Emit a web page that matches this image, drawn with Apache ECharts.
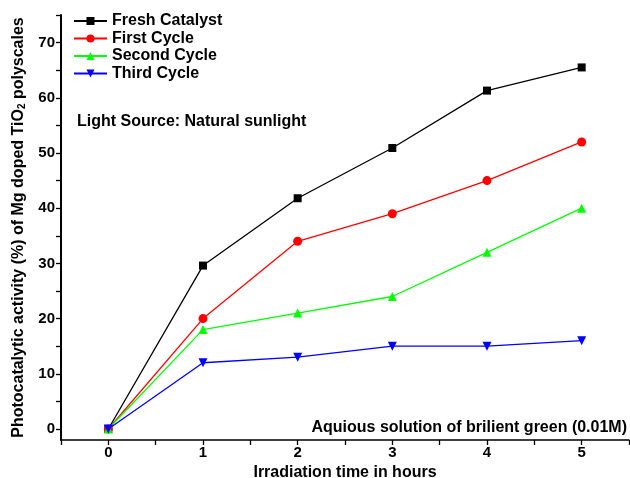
<!DOCTYPE html>
<html><head><meta charset="utf-8">
<script src="https://cdn.jsdelivr.net/npm/echarts@6/dist/echarts.min.js"></script>
<style>html,body{margin:0;padding:0;background:#fff}#c{width:630px;height:478px}</style>
</head><body><div id="c"></div>
<script>
const hours = [0, 1, 2, 3, 4, 5];
const fresh = [0, 29.6, 41.8, 50.9, 61.3, 65.5];
const first = [0, 20, 34, 39, 45, 52];
const second = [0, 18, 21, 24, 32, 40];
const third = [0, 12, 13, 15, 15, 16];
const seriesNames = ['Fresh Catalyst', 'First Cycle', 'Second Cycle', 'Third Cycle'];
const yTickValues = [0, 5, 10, 15, 20, 25, 30, 35, 40, 45, 50, 55, 60, 65, 70, 75];
const yLabelValues = [0, 10, 20, 30, 40, 50, 60, 70];
const xTickValues = [-0.5, 0, 0.5, 1, 1.5, 2, 2.5, 3, 3.5, 4, 4.5, 5, 5.5];
const xLabelValues = [0, 1, 2, 3, 4, 5];
const xMin = -0.5, xMax = 5.5, yMin = -2, yMax = 75;

const FONT = '"Liberation Sans", Arial, sans-serif';
const pair = arr => hours.map((h, i) => [h, arr[i]]);
const mk = (name, data, color, symbol, rot) => ({
  name, type: 'line', data: pair(data), symbol, symbolSize: symbol === 'rect' ? 8 : 9,
  symbolRotate: rot || 0, clip: false,
  lineStyle: { color, width: 1.3 }, itemStyle: { color }, animation: false
});

const chart = echarts.init(document.getElementById('c'), null, { renderer: 'canvas' });
chart.setOption({
  animation: false,
  grid: { left: 61, right: 1, top: 15, bottom: 38, containLabel: false, outerBoundsMode: 'none' },
  legend: {
    orient: 'vertical', left: 73, top: 13, padding: 0, itemWidth: 33, itemHeight: 10, itemGap: 1.5,
    data: seriesNames,
    textStyle: { fontFamily: FONT, fontWeight: 'bold', fontSize: 16, color: '#000', lineHeight: 16 }
  },
  xAxis: {
    type: 'value', min: xMin, max: xMax, position: 'bottom',
    splitLine: { show: false },
    axisLine: { show: true, onZero: false, lineStyle: { color: '#000', width: 1.5 } },
    axisTick: { show: true, customValues: xTickValues, length: 5, lineStyle: { color: '#000', width: 1.3 } },
    axisLabel: { customValues: xLabelValues, fontFamily: FONT, fontWeight: 'bold', fontSize: 15, color: '#000', margin: 5 },
    name: 'Irradiation time in hours', nameLocation: 'middle', nameGap: 24,
    nameTextStyle: { fontFamily: FONT, fontWeight: 'bold', fontSize: 16, color: '#000' }
  },
  yAxis: {
    type: 'value', min: yMin, max: yMax, position: 'left',
    splitLine: { show: false },
    axisLine: { show: true, onZero: false, lineStyle: { color: '#000', width: 2 } },
    axisTick: { show: true, customValues: yTickValues, length: 5, lineStyle: { color: '#000', width: 1.3 } },
    axisLabel: { customValues: yLabelValues, fontFamily: FONT, fontWeight: 'bold', fontSize: 15, color: '#000', margin: 6 },
    name: '{a|Photocatalytic activity (%) of Mg doped TiO}{s|2}{a| polyscales}',
    nameLocation: 'middle', nameGap: 31, nameRotate: 90,
    nameTextStyle: {
      rich: {
        a: { fontFamily: FONT, fontWeight: 'bold', fontSize: 16, color: '#000' },
        s: { fontFamily: FONT, fontWeight: 'bold', fontSize: 10, color: '#000', verticalAlign: 'bottom', padding: [7, 0, 0, 0] }
      }
    }
  },
  graphic: [
    { type: 'text', left: 77, top: 114, style: { text: 'Light Source: Natural sunlight', font: 'bold 16px "Liberation Sans", Arial, sans-serif', fill: '#000' } },
    { type: 'text', right: 3, top: 420, style: { text: 'Aquious solution of brilient green (0.01M)', font: 'bold 16px "Liberation Sans", Arial, sans-serif', fill: '#000' } }
  ],
  series: [
    { type: 'line', name: 'leftAxisLine', data: [[xMin, yMin], [xMin, yMax]], symbol: 'none', clip: false,
      silent: true, z: 5, lineStyle: { color: '#000', width: 2 }, tooltip: { show: false } },
    mk('Fresh Catalyst', fresh, '#000000', 'rect'),
    mk('First Cycle', first, '#ff0000', 'circle'),
    mk('Second Cycle', second, '#00ff00', 'triangle'),
    mk('Third Cycle', third, '#0000ff', 'triangle', 180)
  ]
});
</script></body></html>
